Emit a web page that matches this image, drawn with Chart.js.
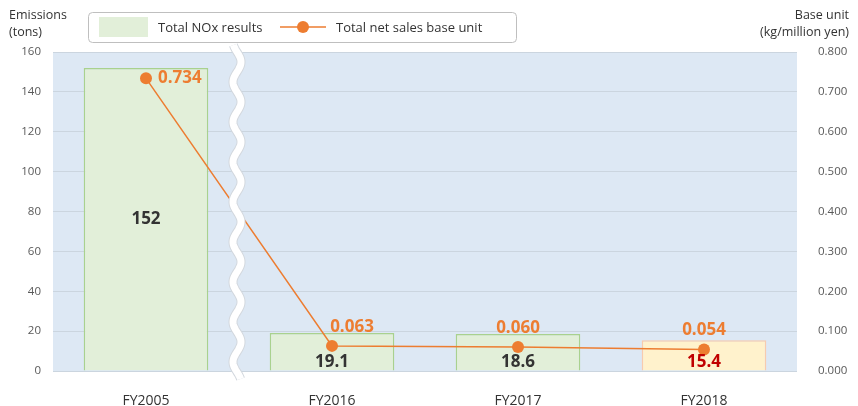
<!DOCTYPE html>
<html>
<head>
<meta charset="utf-8">
<script src="https://cdn.jsdelivr.net/npm/chart.js@4"></script>
<style>
  html, body { margin: 0; padding: 0; background: #fff; }
  #wrap { width: 858px; height: 406px; }
</style>
</head>
<body>
<div id="wrap"><canvas id="chart" width="858" height="406"></canvas></div>
<script>
const categories = ["FY2005", "FY2016", "FY2017", "FY2018"];
const noxTotals = [152, 19.1, 18.6, 15.4];
const baseUnits = [0.734, 0.063, 0.060, 0.054];
const leftTicks = [0, 20, 40, 60, 80, 100, 120, 140, 160];
const rightTicks = [0, 0.1, 0.2, 0.3, 0.4, 0.5, 0.6, 0.7, 0.8];

const FONT = "'Open Sans', 'Noto Sans', sans-serif";
const ORANGE = "#ed7d31";

// Bar colours: last year highlighted in yellow
const barFill = ["#e2efd9", "#e2efd9", "#e2efd9", "#fff2cc"];
const barBorder = ["#a9d18e", "#a9d18e", "#a9d18e", "#f8cbad"];
const barLabelColor = ["#333333", "#333333", "#333333", "#c00000"];

// Blue plot background
const plotBackground = {
  id: "plotBackground",
  beforeDraw(chart) {
    const { ctx, chartArea: a } = chart;
    ctx.save();
    ctx.fillStyle = "#dde8f4";
    ctx.fillRect(a.left, a.top, a.right - a.left, a.bottom - a.top);
    ctx.restore();
  }
};

// Value labels, the axis break wave, axis titles and the boxed legend
const overlay = {
  id: "overlay",
  afterDatasetsDraw(chart) {
    const { ctx, chartArea: a } = chart;
    const xs = chart.scales.x;

    // wavy break between FY2005 and FY2016
    const bx = xs.getPixelForValue(0.5) - 2;
    const drawWave = (w, color) => {
      ctx.beginPath();
      for (let y = a.top - 7; y <= a.bottom + 8; y += 1) {
        const x = bx + 4 * Math.sin((y - a.top) / 40 * Math.PI * 2);
        if (y === a.top - 7) ctx.moveTo(x, y); else ctx.lineTo(x, y);
      }
      ctx.lineWidth = w;
      ctx.strokeStyle = color;
      ctx.stroke();
    };
    ctx.save();
    drawWave(9, "#d3d8de");
    drawWave(7, "#ffffff");
    ctx.restore();

    // bar labels
    const bars = chart.getDatasetMeta(0).data;
    ctx.save();
    ctx.font = "bold 17px " + FONT;
    ctx.textAlign = "center";
    ctx.textBaseline = "middle";
    bars.forEach((bar, i) => {
      const h = bar.base - bar.y;
      const y = h > 60 ? (bar.y + bar.base) / 2 : bar.base - 8;
      ctx.fillStyle = barLabelColor[i];
      ctx.fillText(String(noxTotals[i]), bar.x, y);
    });

    // line labels; the FY2016 one is nudged right to clear the line
    const pts = chart.getDatasetMeta(1).data;
    ctx.fillStyle = ORANGE;
    ctx.font = "bold 17px " + FONT;
    pts.forEach((p, i) => {
      const txt = baseUnits[i].toFixed(3);
      if (i === 0) {
        ctx.textAlign = "left";
        ctx.fillText(txt, p.x + 12, p.y);
      } else {
        ctx.textAlign = "center";
        ctx.fillText(txt, p.x + (i === 1 ? 20 : 0), p.y - 19);
      }
    });
    ctx.restore();
  },
  afterDraw(chart) {
    const { ctx } = chart;
    ctx.save();
    ctx.fillStyle = "#333333";
    ctx.font = "12.5px " + FONT;
    ctx.textBaseline = "middle";
    ctx.textAlign = "left";
    ctx.fillText("Emissions", 9, 15);
    ctx.fillText("(tons)", 9, 32);
    ctx.textAlign = "right";
    ctx.fillText("Base unit", 849, 15);
    ctx.fillText("(kg/million yen)", 849, 32);

    // legend box
    ctx.beginPath();
    ctx.roundRect(88.5, 12.5, 428, 30, 4);
    ctx.fillStyle = "#ffffff";
    ctx.fill();
    ctx.strokeStyle = "#bfbfbf";
    ctx.lineWidth = 1;
    ctx.stroke();
    ctx.fillStyle = "#e2efd9";
    ctx.fillRect(99, 17, 49, 20);
    ctx.fillStyle = "#333333";
    ctx.textAlign = "left";
    ctx.font = "13px " + FONT;
    ctx.fillText("Total NOx results", 158, 28);
    ctx.beginPath();
    ctx.moveTo(280, 27);
    ctx.lineTo(326, 27);
    ctx.strokeStyle = ORANGE;
    ctx.lineWidth = 1.5;
    ctx.stroke();
    ctx.beginPath();
    ctx.arc(303, 27, 6, 0, Math.PI * 2);
    ctx.fillStyle = ORANGE;
    ctx.fill();
    ctx.fillStyle = "#333333";
    ctx.fillText("Total net sales base unit", 336, 28);
    ctx.restore();
  }
};

new Chart(document.getElementById("chart"), {
  data: {
    labels: categories,
    datasets: [
      {
        type: "bar",
        label: "Total NOx results",
        data: noxTotals,
        yAxisID: "y",
        backgroundColor: barFill,
        borderColor: barBorder,
        borderWidth: 1.5,
        borderSkipped: "bottom",
        barPercentage: 0.67,
        categoryPercentage: 1,
        order: 2
      },
      {
        type: "line",
        label: "Total net sales base unit",
        data: baseUnits,
        yAxisID: "y1",
        borderColor: ORANGE,
        borderWidth: 1.5,
        backgroundColor: ORANGE,
        pointRadius: 6,
        pointBorderWidth: 0,
        pointBackgroundColor: ORANGE,
        tension: 0,
        order: 1
      }
    ]
  },
  plugins: [plotBackground, overlay],
  options: {
    responsive: false,
    animation: false,
    devicePixelRatio: 1,
    layout: { padding: { top: 52, left: 0, right: 0, bottom: 0 } },
    plugins: {
      legend: { display: false },
      tooltip: { enabled: false }
    },
    scales: {
      x: {
        grid: { display: false },
        border: { display: false },
        ticks: { color: "#333333", font: { family: FONT, size: 14 }, padding: 14 },
        afterFit(scale) { scale.height = 35; }
      },
      y: {
        position: "left",
        min: 0,
        max: 160,
        afterBuildTicks(scale) { scale.ticks = leftTicks.map(v => ({ value: v })); },
        grid: { color: "#cbd5df", lineWidth: 1, drawTicks: false },
        border: { display: false },
        ticks: { color: "#595959", font: { family: FONT, size: 11.5 }, padding: 12 },
        afterFit(scale) { scale.width = 53; }
      },
      y1: {
        position: "right",
        min: 0,
        max: 0.8,
        afterBuildTicks(scale) { scale.ticks = rightTicks.map(v => ({ value: v })); },
        grid: { display: false, drawOnChartArea: false },
        border: { display: false },
        ticks: {
          color: "#595959",
          font: { family: FONT, size: 11.5 },
          padding: 13,
          callback: v => v.toFixed(3)
        },
        afterFit(scale) { scale.width = 61; }
      }
    }
  }
});
</script>
</body>
</html>
